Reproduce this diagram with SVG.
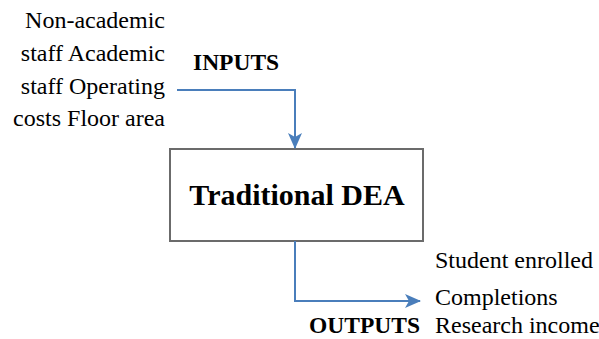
<svg xmlns="http://www.w3.org/2000/svg" width="599" height="339" viewBox="0 0 599 339">
<style>
text{font-family:"Liberation Serif","Times New Roman",serif;fill:#000}
.t{font-size:24px}
.b{font-size:23.5px;font-weight:bold}
.line{fill:none;stroke:#4a7ebb;stroke-width:2}
</style>
<defs>
<marker id="ah2" markerWidth="16" markerHeight="14" refX="15" refY="7" orient="auto" markerUnits="userSpaceOnUse" viewBox="0 0 16 14">
<path d="M0,0 L16,7 L0,14 L4,7 Z" fill="#4a7ebb"/>
</marker>
</defs>
<g id="inputs-list">
<text class="t" x="165" y="28" text-anchor="end">Non-academic</text>
<text class="t" x="165" y="61" text-anchor="end">staff Academic</text>
<text class="t" x="165" y="94" text-anchor="end">staff Operating</text>
<text class="t" x="165" y="126" text-anchor="end">costs Floor area</text>
</g>
<g id="inputs-label"><text class="b" x="193" y="70">INPUTS</text></g>
<g id="dea">
<rect x="170" y="149" width="253" height="92" fill="#fff" stroke="#6b6b6b" stroke-width="2"/>
<text x="297" y="205" text-anchor="middle" style="font-size:30px;font-weight:bold">Traditional DEA</text>
</g>
<g id="outputs-list">
<text class="t" x="435" y="268">Student enrolled</text>
<text class="t" x="435" y="305">Completions</text>
<text class="t" x="435" y="333">Research income</text>
</g>
<g id="outputs-label"><text class="b" x="309" y="333">OUTPUTS</text></g>
<g id="connectors">
<path class="line" d="M177,90 H295 V148" marker-end="url(#ah2)"/>
<path class="line" d="M295,241 V301 H420" marker-end="url(#ah2)"/>
</g>
</svg>
